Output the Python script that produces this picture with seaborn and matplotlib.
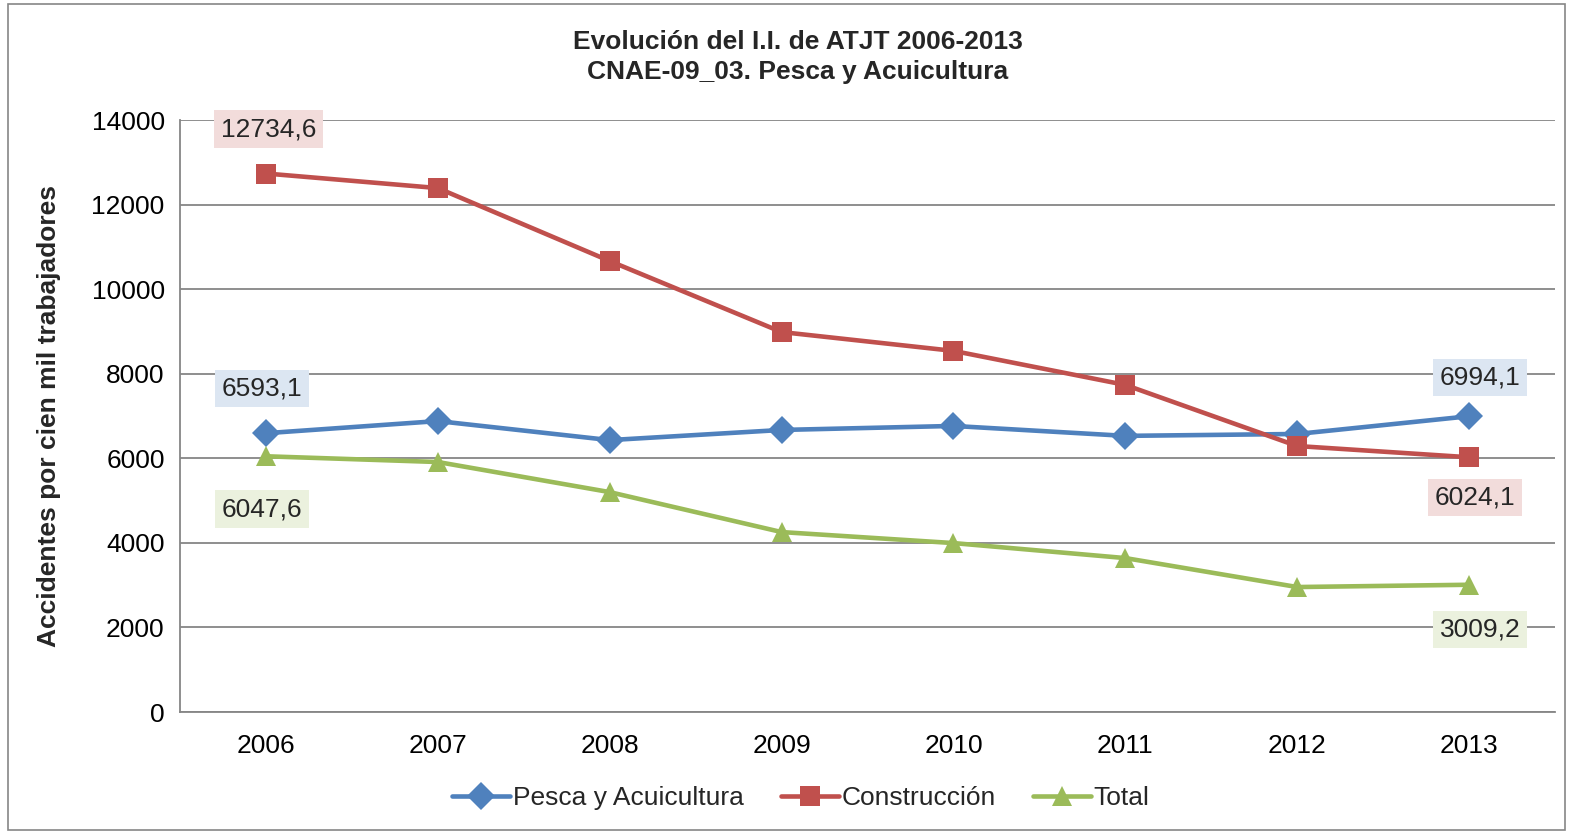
import pandas as pd
import matplotlib
matplotlib.use('Agg')
import matplotlib.pyplot as plt
import matplotlib.patches as mpatches
import seaborn as sns

# datos
years = [2006, 2007, 2008, 2009, 2010, 2011, 2012, 2013]
pesca = [6593.1, 6880, 6430, 6670, 6765, 6530, 6575, 6994.1]
construccion = [12734.6, 12390, 10665, 8985, 8540, 7735, 6290, 6024.1]
total = [6047.6, 5912, 5200, 4255, 3995, 3640, 2955, 3009.2]
series_names = ['Pesca y Acuicultura', 'Construcción', 'Total']
y_ticks = [0, 2000, 4000, 6000, 8000, 10000, 12000, 14000]

colors = {'Pesca y Acuicultura': '#4F81BD', 'Construcción': '#C0504D', 'Total': '#9BBB59'}
box_colors = {'Pesca y Acuicultura': '#DCE6F2', 'Construcción': '#F2DCDB', 'Total': '#EBF1DE'}
markers = {'Pesca y Acuicultura': 'D', 'Construcción': 's', 'Total': '^'}

df = pd.DataFrame({
    'year': years * 3,
    'value': pesca + construccion + total,
    'serie': [s for s in series_names for _ in years],
})

sns.set_style('white')
plt.rcParams['font.family'] = ['Liberation Sans', 'DejaVu Sans']

fig = plt.figure(figsize=(15.7, 8.32), dpi=100)
ax = fig.add_axes([180 / 1570, 1 - 712 / 832, 1375 / 1570, 592 / 832])

sns.lineplot(data=df, x='year', y='value', hue='serie', style='serie',
             hue_order=series_names, style_order=series_names,
             palette=colors, markers=markers, dashes=False,
             linewidth=3.3, markersize=14.5, markeredgewidth=0, ax=ax)

ax.set_xlim(2005.5, 2013.5)
ax.set_ylim(0, 14000)
ax.set_yticks(y_ticks)
ax.set_xticks(years)
ax.set_xticks([y + 0.5 for y in [2005] + years], minor=True)
ax.tick_params(axis='both', which='major', labelsize=19, colors='black')
ax.tick_params(axis='y', which='major', length=5, color='#868686', direction='out', pad=6)
ax.tick_params(axis='x', which='major', length=0, pad=16)
ax.tick_params(axis='x', which='minor', length=6, color='#868686', direction='out')
ax.yaxis.grid(True, color='#868686', linewidth=1.3)
ax.set_axisbelow(True)
for side in ['top', 'right']:
    ax.spines[side].set_visible(False)
for side in ['left', 'bottom']:
    ax.spines[side].set_color('#868686')
    ax.spines[side].set_linewidth(1.3)

ax.set_xlabel('')
ax.set_ylabel('Accidentes por cien mil trabajadores', fontsize=19, fontweight='bold', labelpad=22)

# etiquetas de datos (primer y último año)
data = dict(zip(series_names, [pesca, construccion, total]))
offsets = {
    'Pesca y Acuicultura': [(-3, 32), (8, 28)],
    'Construcción': [(2, 32), (4, -29)],
    'Total': [(-3, -38), (8, -32)],
}
for s in series_names:
    vals = data[s]
    for (idx, (dx, dy)) in zip([0, -1], offsets[s]):
        v = vals[idx]
        ax.annotate(f'{v:.1f}'.replace('.', ','), (years[idx], v),
                    xytext=(dx, dy), textcoords='offset points',
                    ha='center', va='center', fontsize=19,
                    bbox=dict(boxstyle='square,pad=0.25', facecolor=box_colors[s], edgecolor='none'))

handles, labels = ax.get_legend_handles_labels()
ax.get_legend().remove()
fig.legend(handles, labels, loc='center', bbox_to_anchor=(0.51, 1 - 798 / 832), ncol=3,
           frameon=False, fontsize=19, handlelength=2.2, handletextpad=0.1, columnspacing=1.4)

fig.text(0.508, 1 - 57 / 832, 'Evolución del I.I. de ATJT 2006-2013\nCNAE-09_03. Pesca y Acuicultura',
         ha='center', va='center', fontsize=19, fontweight='bold', linespacing=1.3)

fig.patches.append(mpatches.Rectangle((8 / 1570, 2 / 832), 1557 / 1570, 826 / 832,
                                      transform=fig.transFigure, fill=False,
                                      edgecolor='#868686', linewidth=1.2))

fig.savefig('out.png', dpi=100)
